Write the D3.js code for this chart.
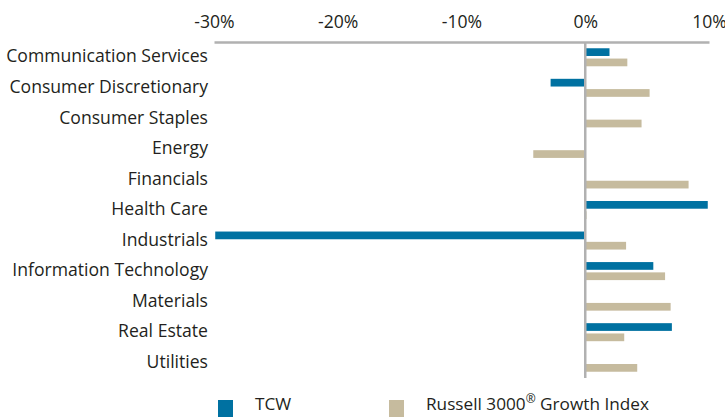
<!DOCTYPE html>
<html>
<head>
<meta charset="utf-8">
<script src="https://cdn.jsdelivr.net/npm/d3@7"></script>
<style>
  body { margin: 0; background: #fff; }
  text { font-family: "Open Sans", sans-serif; fill: #231f20; }
</style>
</head>
<body>
<div id="app"></div>
<script>
const sectors = [
  "Communication Services", "Consumer Discretionary", "Consumer Staples", "Energy",
  "Financials", "Health Care", "Industrials", "Information Technology",
  "Materials", "Real Estate", "Utilities"
];
const seriesNames = ["TCW", "Russell 3000® Growth Index"];
const tcwValues = [1.96, -2.8, 0, 0, 0, 9.9, -29.9, 5.5, 0, 7.0, 0];
const russellValues = [3.4, 5.2, 4.55, -4.2, 8.35, 0.1, 3.3, 6.45, 6.9, 3.15, 4.2];
const tickValues = [-0.3, -0.2, -0.1, 0, 0.1];
const colors = ["#0071a1", "#c6bb9e"];

const width = 725, height = 417;

const svg = d3.select("#app").append("svg")
  .attr("width", width)
  .attr("height", height);

const x = d3.scaleLinear().domain([-30, 10]).range([214, 709]);

const y = d3.scaleBand()
  .domain(sectors)
  .range([42, 378])
  .paddingInner(0.41)
  .paddingOuter(0.205);

const ySub = d3.scaleBand()
  .domain(seriesNames)
  .range([0, y.bandwidth()])
  .paddingInner(0.25);

// top axis
const xAxis = d3.axisTop(x)
  .tickValues(tickValues.map(v => v * 100))
  .tickSize(0)
  .tickPadding(14)
  .tickFormat(d => d + "%");

const axisG = svg.append("g")
  .attr("transform", "translate(0,42)")
  .call(xAxis);
axisG.select(".domain").attr("stroke", "#b1b1b1").attr("stroke-width", 2.5);
axisG.selectAll("text")
  .style("font-family", '"Open Sans", sans-serif')
  .attr("font-size", 17.6)
  .attr("fill", "#231f20");

// bars
const rows = sectors.map((s, i) => ({ sector: s, values: [tcwValues[i], russellValues[i]] }));

const groups = svg.append("g").selectAll("g")
  .data(rows)
  .join("g")
  .attr("transform", d => `translate(0,${y(d.sector)})`);

groups.selectAll("rect")
  .data(d => d.values.map((v, k) => ({ v, k })))
  .join("rect")
  .filter(d => d.v !== 0)
  .attr("x", d => x(Math.min(0, d.v)))
  .attr("width", d => Math.abs(x(d.v) - x(0)))
  .attr("y", d => ySub(seriesNames[d.k]))
  .attr("height", ySub.bandwidth())
  .attr("fill", d => colors[d.k]);

// zero line
svg.append("line")
  .attr("x1", x(0)).attr("x2", x(0))
  .attr("y1", 42).attr("y2", 378)
  .attr("stroke", "#b1b1b1")
  .attr("stroke-width", 2.5);

// category labels
svg.append("g").selectAll("text")
  .data(sectors)
  .join("text")
  .attr("x", 208)
  .attr("y", d => y(d) + y.bandwidth() / 2 - 1)
  .attr("dy", "0.35em")
  .attr("text-anchor", "end")
  .attr("font-size", 17.6)
  .text(d => d);

// legend
const legendX = [218, 389];
const legend = svg.append("g").selectAll("g")
  .data(seriesNames)
  .join("g")
  .attr("transform", (d, i) => `translate(${legendX[i]},400)`);

legend.append("rect")
  .attr("width", 15)
  .attr("height", 17)
  .attr("fill", (d, i) => colors[i]);

legend.append("text")
  .attr("x", 37)
  .attr("y", 10)
  .attr("font-size", 17.2)
  .each(function(d) {
    const t = d3.select(this);
    if (d.includes("®")) {
      const parts = d.split("®");
      t.append("tspan").text(parts[0]);
      t.append("tspan").attr("dy", -7).attr("font-size", 12).text("®");
      t.append("tspan").attr("dy", 7).text(parts[1]);
    } else {
      t.text(d);
    }
  });
</script>
</body>
</html>
